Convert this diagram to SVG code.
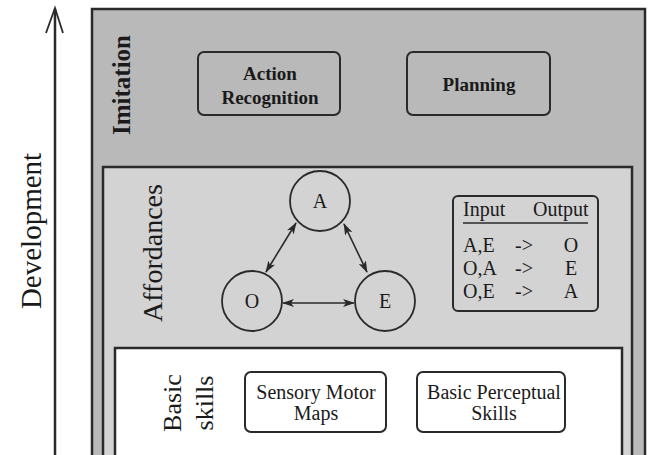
<svg xmlns="http://www.w3.org/2000/svg" width="649" height="455" viewBox="0 0 649 455">
<style>
text{font-family:"Liberation Serif","Times New Roman",serif;fill:#1a1a1a}
.layer{stroke:#2a2a2a;stroke-width:2.5}
.box{fill:none;stroke:#2a2a2a;stroke-width:2}
.circ{fill:none;stroke:#2a2a2a;stroke-width:1.8}
.conn{stroke:#2a2a2a;stroke-width:1.6;fill:none;marker-start:url(#ah);marker-end:url(#ah)}
.b{font-weight:bold}
.t{font-size:20px}
</style>
<defs>
<marker id="ah" viewBox="0 0 12 8" refX="11" refY="4" markerWidth="12" markerHeight="8" markerUnits="userSpaceOnUse" orient="auto-start-reverse">
<path d="M0,0 L12,4 L0,8 L3,4 Z" fill="#2a2a2a"/>
</marker>
</defs>
<rect width="649" height="455" fill="#ffffff"/>
<g id="development">
<line x1="55" y1="9" x2="55" y2="455" stroke="#2a2a2a" stroke-width="2.5"/>
<polyline points="46,33 55,8 63,33" fill="none" stroke="#2a2a2a" stroke-width="1.8"/>
<text transform="translate(41,231) rotate(-90)" text-anchor="middle" font-size="29">Development</text>
</g>
<g id="imitation">
<rect class="layer" x="92" y="9" width="553" height="460" fill="#b9b9b9"/>
<text class="b" transform="translate(130,85) rotate(-90)" text-anchor="middle" font-size="25">Imitation</text>
</g>
<g id="action-recognition">
<rect class="box" x="198" y="52" width="142" height="63" rx="6"/>
<text class="b" x="270" y="80" text-anchor="middle" font-size="19">Action</text>
<text class="b" x="270" y="104" text-anchor="middle" font-size="19">Recognition</text>
</g>
<g id="planning">
<rect class="box" x="407" y="52" width="143" height="63" rx="6"/>
<text class="b" x="479" y="91" text-anchor="middle" font-size="19">Planning</text>
</g>
<g id="affordances">
<rect class="layer" x="103" y="167" width="529" height="300" fill="#d3d3d3"/>
<text transform="translate(162,253) rotate(-90)" text-anchor="middle" font-size="28">Affordances</text>
</g>
<g id="node-a">
<circle class="circ" cx="320" cy="201" r="30"/>
<text x="320" y="208" text-anchor="middle" font-size="20">A</text>
</g>
<g id="node-o">
<circle class="circ" cx="252" cy="301" r="30"/>
<text x="252" y="308" text-anchor="middle" font-size="20">O</text>
</g>
<g id="node-e">
<circle class="circ" cx="385" cy="301" r="30"/>
<text x="385" y="308" text-anchor="middle" font-size="20">E</text>
</g>
<g id="connectors">
<line class="conn" x1="296" y1="223" x2="266" y2="272"/>
<line class="conn" x1="344" y1="224" x2="367" y2="272"/>
<line class="conn" x1="283" y1="303" x2="354" y2="303"/>
</g>
<g id="table">
<rect class="box" x="453" y="196" width="145" height="115" rx="5"/>
<text class="t" x="463" y="216">Input</text>
<text class="t" x="533" y="216">Output</text>
<line x1="463" y1="223" x2="588" y2="223" stroke="#2a2a2a" stroke-width="1.5"/>
<text class="t" x="463" y="252">A,E</text>
<text class="t" x="515" y="252">-&gt;</text>
<text class="t" x="571" y="252" text-anchor="middle">O</text>
<text class="t" x="463" y="275">O,A</text>
<text class="t" x="515" y="275">-&gt;</text>
<text class="t" x="571" y="275" text-anchor="middle">E</text>
<text class="t" x="463" y="298">O,E</text>
<text class="t" x="515" y="298">-&gt;</text>
<text class="t" x="571" y="298" text-anchor="middle">A</text>
</g>
<g id="basic-skills">
<rect class="layer" x="115" y="348" width="507" height="120" fill="#ffffff"/>
<text transform="translate(181,403) rotate(-90)" text-anchor="middle" font-size="26">Basic</text>
<text transform="translate(213,403) rotate(-90)" text-anchor="middle" font-size="26">skills</text>
</g>
<g id="sensory-motor-maps">
<rect class="box" x="245" y="372" width="141" height="60" rx="6"/>
<text x="316" y="399" text-anchor="middle" font-size="20">Sensory Motor</text>
<text x="316" y="420" text-anchor="middle" font-size="20">Maps</text>
</g>
<g id="basic-perceptual-skills">
<rect class="box" x="417" y="372" width="148" height="60" rx="6"/>
<text x="494" y="399" text-anchor="middle" font-size="20">Basic Perceptual</text>
<text x="494" y="420" text-anchor="middle" font-size="20">Skills</text>
</g>
</svg>
